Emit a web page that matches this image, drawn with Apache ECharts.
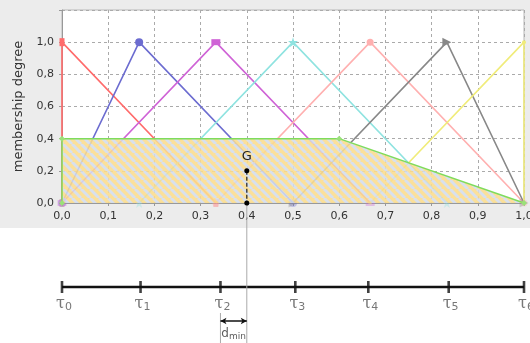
<!DOCTYPE html>
<html>
<head>
<meta charset="utf-8">
<script src="https://cdn.jsdelivr.net/npm/echarts@6/dist/echarts.min.js"></script>
<style>
html,body{margin:0;padding:0;background:#fff;}
#chart{width:530px;height:343px;}
</style>
</head>
<body>
<div id="chart"></div>
<script>
// membership functions tau0..tau6 : [x, degree]
var tau0 = [[0, 0], [0, 1], [0.333, 0]];
var tau1 = [[0, 0], [0.167, 1], [0.5, 0]];
var tau2 = [[0, 0], [0.333, 1], [0.667, 0]];
var tau3 = [[0.167, 0], [0.5, 1], [0.833, 0]];
var tau4 = [[0.333, 0], [0.667, 1], [1, 0]];
var tau5 = [[0.5, 0], [0.833, 1], [1, 0]];
var tau6 = [[0.667, 0], [1, 1], [1, 0]];
// aggregated output set
var outSet = [[0, 0], [0, 0.4], [0.6, 0.4], [1, 0]];
// centroid G
var gPoint = [0.4, 0.2];
var gFoot = [0.4, 0];
// tick labels
var xTicks = [0, 0.1, 0.2, 0.3, 0.4, 0.5, 0.6, 0.7, 0.8, 0.9, 1.0];
var yTicks = [0, 0.2, 0.4, 0.6, 0.8, 1.0];
// positions of the terms on the lower scale
var termPos = [0, 0.17, 0.343, 0.505, 0.663, 0.837, 1.0];
var termNames = ['0', '1', '2', '3', '4', '5', '6'];

var myChart = echarts.init(document.getElementById('chart'));

var STAR = 'path://M50,0 L61,35 L98,35 L68,57 L79,91 L50,70 L21,91 L32,57 L2,35 L39,35 Z';

// hatch pattern for the filled area
function hatch() {
    var c = document.createElement('canvas');
    c.width = 9; c.height = 9;
    var ctx = c.getContext('2d');
    ctx.fillStyle = '#fbdc8c';
    ctx.fillRect(0, 0, 9, 9);
    ctx.strokeStyle = '#d3dcec';
    ctx.lineWidth = 3;
    for (var k = -9; k <= 9; k += 9) {
        ctx.beginPath();
        ctx.moveTo(k, 0);
        ctx.lineTo(k + 9, 9);
        ctx.stroke();
    }
    return c;
}

function fmt(v) {
    return v.toFixed(1).replace('.', ',');
}

var AX_Y = 84, ARROW_Y = 118, DLBL_Y = 131, BOUND_TOP = 110, BOT = 140;

function mf(name, data, color, symbol, size, rotate) {
    return {
        name: name,
        type: 'line',
        data: data.map(function (d) {
            // base points sit under the hatched area and look faded
            return d[1] === 0 ? {value: d, itemStyle: {opacity: 0.35}} : {value: d};
        }),
        xAxisIndex: 0, yAxisIndex: 0,
        symbol: symbol,
        symbolSize: size,
        symbolRotate: rotate || 0,
        showSymbol: true,
        lineStyle: {color: color, width: 1.6},
        itemStyle: {color: color},
        z: 2
    };
}

option = {
    animation: false,
    graphic: [{
        type: 'rect',
        left: 0, top: 0,
        shape: {width: 530, height: 228},
        style: {fill: '#ececec'},
        z: -10
    }],
    grid: [{
        left: 62, right: 6, top: 10, bottom: 140,
        outerBoundsMode: 'none',
        show: true,
        backgroundColor: '#fff',
        borderColor: '#b8b8b8',
        borderWidth: 1
    }, {
        left: 62, right: 6, top: 203, bottom: 0,
        outerBoundsMode: 'none'
    }],
    xAxis: [{
        type: 'value', gridIndex: 0,
        min: 0, max: 1, interval: 0.1,
        axisLine: {onZero: false, lineStyle: {color: '#999'}},
        axisTick: {show: true, length: 3, lineStyle: {color: '#999'}},
        axisLabel: {
            color: '#333', fontSize: 11, margin: 8,
            fontFamily: 'DejaVu Sans',
            formatter: function (v) { return fmt(v); }
        },
        splitLine: {show: true, lineStyle: {color: '#aaa', type: [3, 3]}}
    }, {
        type: 'value', gridIndex: 1, min: 0, max: 1, show: false
    }],
    yAxis: [{
        type: 'value', gridIndex: 0,
        min: 0, max: 1.2, interval: 0.2,
        name: 'membership degree',
        nameLocation: 'middle',
        nameGap: 36,
        nameTextStyle: {color: '#333', fontSize: 13, fontFamily: 'DejaVu Sans'},
        axisLine: {show: true, lineStyle: {color: '#999'}},
        axisTick: {show: true, length: 3, lineStyle: {color: '#999'}},
        axisLabel: {
            color: '#333', fontSize: 11, margin: 8,
            fontFamily: 'DejaVu Sans',
            formatter: function (v) { return v > 1.05 ? '' : fmt(v); }
        },
        splitLine: {show: true, lineStyle: {color: '#aaa', type: [3, 3]}}
    }, {
        type: 'value', gridIndex: 1, min: 0, max: BOT, inverse: true, show: false
    }],
    series: [
        mf('τ0', tau0, '#ff6b6b', 'rect', [5, 8]),
        mf('τ1', tau1, '#6c6cd0', 'circle', 8),
        mf('τ2', tau2, '#cf63d6', 'rect', [9, 6]),
        mf('τ3', tau3, '#8fe3e0', STAR, 10),
        mf('τ4', tau4, '#ffb0b0', 'circle', 7),
        mf('τ5', tau5, '#888888', 'triangle', 9, -90),
        mf('τ6', tau6, '#f0ec7a', 'circle', 4),
        {
            name: 'output',
            type: 'line',
            data: outSet,
            symbol: 'diamond',
            symbolSize: 6,
            lineStyle: {color: '#7fdc5c', width: 1.5},
            itemStyle: {color: '#9be07a'},
            areaStyle: {color: {image: hatch(), repeat: 'repeat'}, opacity: 0.88},
            z: 3
        },
        {
            name: 'G',
            type: 'line',
            data: [gPoint, gFoot],
            symbol: 'circle',
            symbolSize: 5,
            lineStyle: {color: '#222', width: 1.2, type: [4, 2]},
            itemStyle: {color: '#000'},
            label: {
                show: true, position: 'top', distance: 5,
                color: '#222', fontSize: 13, fontFamily: 'DejaVu Sans',
                formatter: function (p) { return p.dataIndex === 0 ? 'G' : ''; }
            },
            z: 5
        },
        // lower scale of the terms
        {
            type: 'line',
            xAxisIndex: 1, yAxisIndex: 1,
            data: [[termPos[0], AX_Y], [termPos[termPos.length - 1], AX_Y]],
            symbol: 'none',
            lineStyle: {color: '#111', width: 2.6},
            z: 4
        },
        {
            type: 'scatter',
            xAxisIndex: 1, yAxisIndex: 1,
            data: termPos.map(function (p, i) { return [p, AX_Y, termNames[i]]; }),
            symbol: 'rect',
            symbolSize: [2.6, 12],
            itemStyle: {color: '#111'},
            label: {
                show: true, position: 'bottom', distance: 1, offset: [2, 0],
                formatter: function (p) { return '{t|τ}{s|' + p.value[2] + '}'; },
                rich: {
                    t: {fontFamily: 'DejaVu Serif', fontSize: 16, color: '#555'},
                    s: {fontFamily: 'DejaVu Sans', fontSize: 11, color: '#555', padding: [8, 0, 0, 0]}
                }
            },
            z: 4
        },
        // vertical guide from G down, d_min bracket
        {
            type: 'line',
            xAxisIndex: 1, yAxisIndex: 1,
            data: [[gPoint[0], 0], [gPoint[0], BOT]],
            symbol: 'none',
            lineStyle: {color: '#aaa', width: 1},
            z: 4
        },
        {
            type: 'line',
            xAxisIndex: 1, yAxisIndex: 1,
            data: [[termPos[2], BOUND_TOP], [termPos[2], BOT]],
            symbol: 'none',
            lineStyle: {color: '#aaa', width: 1},
            markLine: {
                silent: true,
                symbol: ['arrow', 'arrow'],
                symbolSize: [5, 6],
                label: {show: false},
                lineStyle: {color: '#111', width: 1.5, type: 'solid'},
                data: [[{coord: [termPos[2], ARROW_Y]}, {coord: [gPoint[0], ARROW_Y]}]]
            },
            z: 4
        },
        {
            type: 'scatter',
            xAxisIndex: 1, yAxisIndex: 1,
            data: [[(termPos[2] + gPoint[0]) / 2, DLBL_Y]],
            symbolSize: 0,
            label: {
                show: true, position: 'inside',
                formatter: '{d|d}{m|min}',
                rich: {
                    d: {fontFamily: 'DejaVu Sans', fontSize: 12, color: '#333'},
                    m: {fontFamily: 'DejaVu Sans', fontSize: 9, color: '#333', padding: [6, 0, 0, 0]}
                }
            }
        }
    ]
};

myChart.setOption(option);
window.addEventListener("resize", function () {
    myChart.resize();
});
</script>
</body>
</html>
